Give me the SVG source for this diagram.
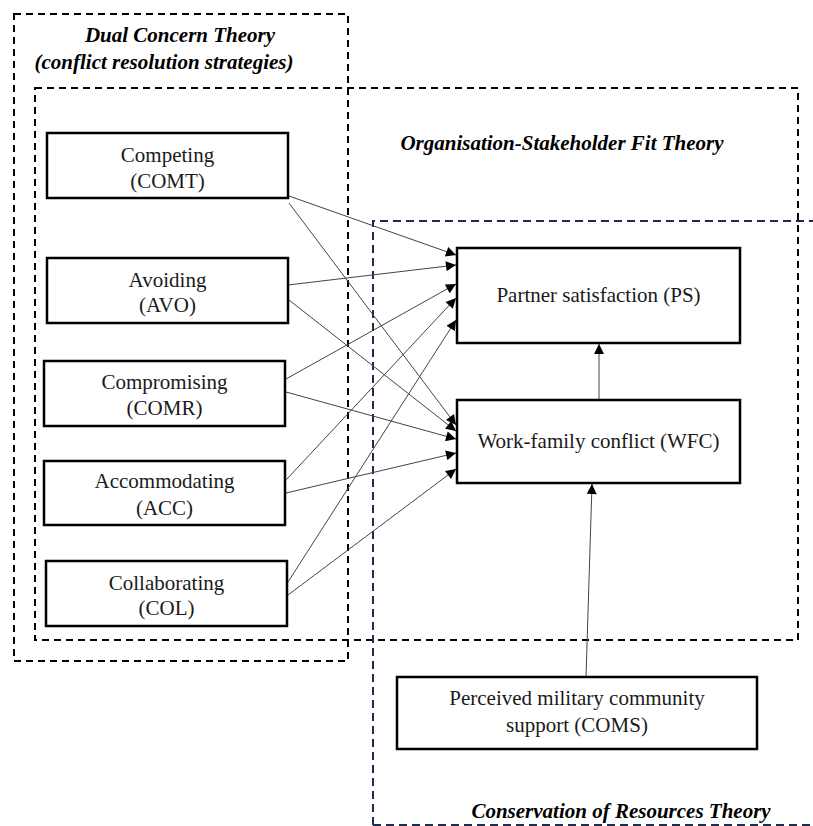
<svg xmlns="http://www.w3.org/2000/svg" width="813" height="826" viewBox="0 0 813 826">
  <style>
    .frame { fill: none; stroke: #000; stroke-width: 2; stroke-dasharray: 7 5; }
    .frame-navy { fill: none; stroke: #1c2d4f; stroke-width: 2; stroke-dasharray: 8 5; }
    .box { fill: #fff; stroke: #000; stroke-width: 2.5; }
    text { font-family: 'Liberation Serif', serif; }
    .label { font-size: 21px; fill: #1a1a1a; text-anchor: middle; }
    .title { font-size: 21px; font-weight: bold; font-style: italic; fill: #000; text-anchor: middle; }
    .edge { fill: none; stroke: #444; stroke-width: 1; marker-end: url(#ah); }
  </style>
  <defs>
    <marker id="ah" viewBox="0 0 10 10" refX="10" refY="5" markerWidth="12" markerHeight="10" markerUnits="userSpaceOnUse" orient="auto">
      <path d="M0,0 L10,5 L0,10 z" fill="#000"/>
    </marker>
  </defs>

  <rect width="813" height="826" fill="#fff"/>

  <!-- theory frames -->
  <g id="frames">
    <rect class="frame" x="14" y="14" width="334" height="647"/>
    <rect class="frame" x="35" y="88" width="763" height="552"/>
    <path class="frame-navy" d="M373,825 L373,221 L815,221"/>
    <path class="frame-navy" d="M373,825 L815,825"/>
    <text class="title" x="180" y="42">Dual Concern Theory</text>
    <text class="title" x="164" y="69">(conflict resolution strategies)</text>
    <text class="title" x="562" y="150">Organisation-Stakeholder Fit Theory</text>
    <text class="title" x="621" y="818">Conservation of Resources Theory</text>
  </g>

  <!-- connectors -->
  <g id="connectors">
    <line class="edge" x1="289" y1="196" x2="456" y2="255"/>
    <line class="edge" x1="289" y1="203" x2="456" y2="425"/>
    <line class="edge" x1="288" y1="285" x2="456" y2="265"/>
    <line class="edge" x1="289" y1="300" x2="456" y2="431"/>
    <line class="edge" x1="286" y1="379" x2="456" y2="284"/>
    <line class="edge" x1="286" y1="392" x2="456" y2="439"/>
    <line class="edge" x1="286" y1="480" x2="456" y2="298"/>
    <line class="edge" x1="286" y1="493" x2="456" y2="453"/>
    <line class="edge" x1="288" y1="582" x2="456" y2="320"/>
    <line class="edge" x1="288" y1="595" x2="456" y2="469"/>
    <line class="edge" x1="599" y1="400" x2="599" y2="344"/>
    <line class="edge" x1="586" y1="677" x2="592" y2="484"/>
  </g>

  <g id="comt">
    <rect class="box" x="47" y="133" width="241" height="65"/>
    <text class="label" x="167.5" y="162">Competing</text>
    <text class="label" x="167.5" y="188">(COMT)</text>
  </g>
  <g id="avo">
    <rect class="box" x="47" y="258" width="241" height="65"/>
    <text class="label" x="167.5" y="287">Avoiding</text>
    <text class="label" x="167.5" y="312">(AVO)</text>
  </g>
  <g id="comr">
    <rect class="box" x="44" y="361" width="241" height="65"/>
    <text class="label" x="164.5" y="389">Compromising</text>
    <text class="label" x="164.5" y="415">(COMR)</text>
  </g>
  <g id="acc">
    <rect class="box" x="44" y="461" width="241" height="64"/>
    <text class="label" x="164.5" y="488">Accommodating</text>
    <text class="label" x="164.5" y="515">(ACC)</text>
  </g>
  <g id="col">
    <rect class="box" x="46" y="561" width="241" height="65"/>
    <text class="label" x="166.5" y="590">Collaborating</text>
    <text class="label" x="166.5" y="615">(COL)</text>
  </g>

  <g id="ps">
    <rect class="box" x="457" y="248" width="283" height="95"/>
    <text class="label" x="598.5" y="302">Partner satisfaction (PS)</text>
  </g>
  <g id="wfc">
    <rect class="box" x="457" y="400" width="283" height="83"/>
    <text class="label" x="598.5" y="448">Work-family conflict (WFC)</text>
  </g>
  <g id="coms">
    <rect class="box" x="397" y="677" width="360" height="72"/>
    <text class="label" x="577" y="705">Perceived military community</text>
    <text class="label" x="577" y="732">support (COMS)</text>
  </g>
</svg>
